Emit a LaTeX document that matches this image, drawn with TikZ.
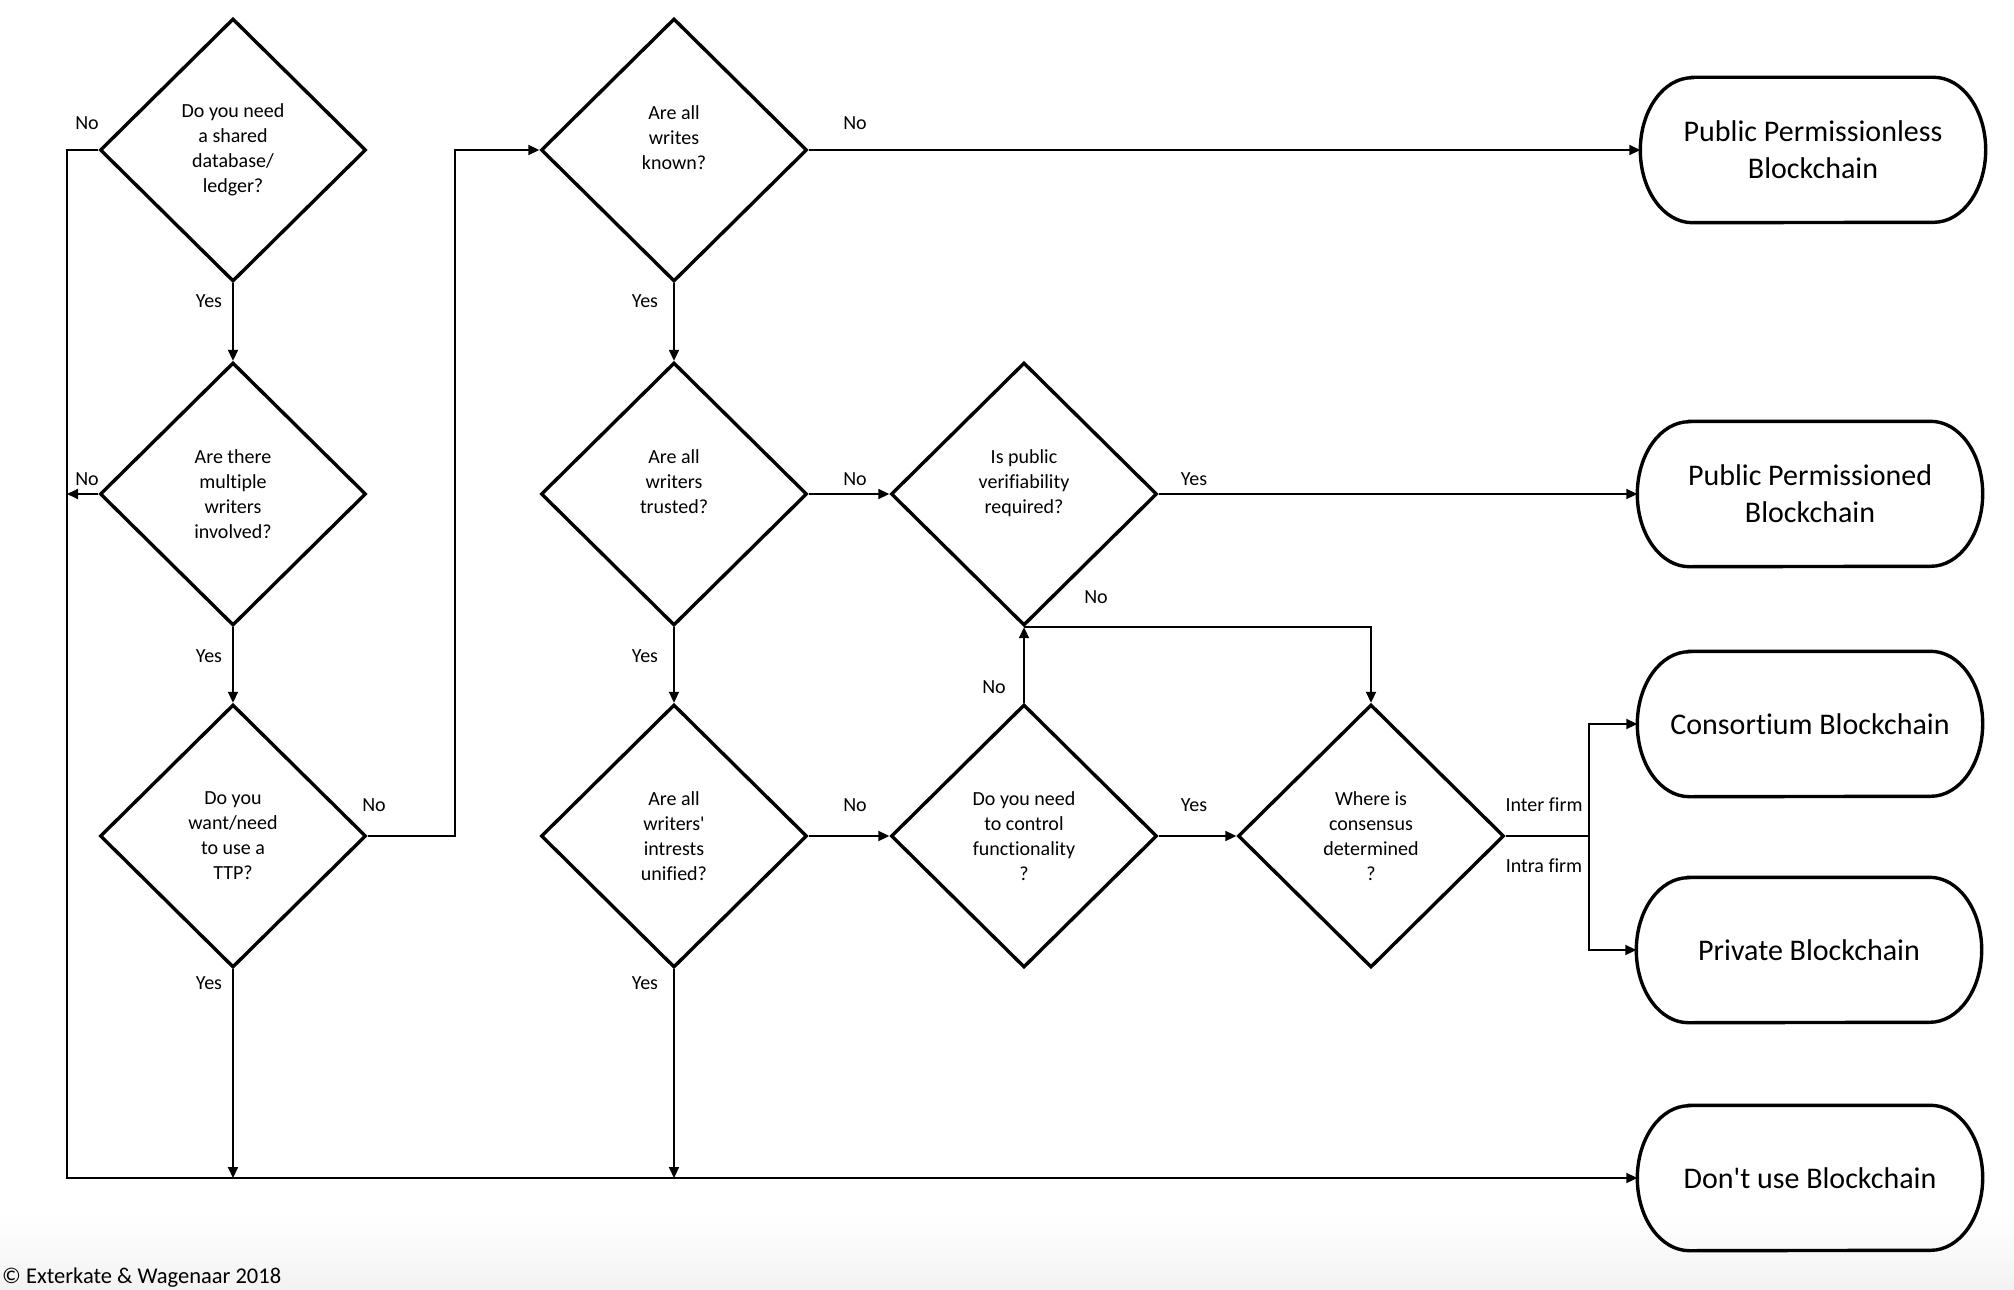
\documentclass[tikz,border=0pt]{standalone}
\usepackage{fontspec}
\setmainfont{Carlito}[Ligatures={NoCommon}]
\usetikzlibrary{shapes.geometric,arrows.meta,calc}
\newcommand\nolig{\kern0pt{}}
\begin{document}
\begin{tikzpicture}[x=1pt,y=-1pt,
  dec/.style={diamond, draw, line width=3.4pt, minimum width=266pt, minimum height=263pt, inner sep=0pt, align=center, font=\fontsize{20}{25}\selectfont},
  term/.style={rectangle, minimum width=345pt, minimum height=145pt, inner sep=0pt, align=center, font=\fontsize{30}{37}\selectfont},
  termline/.style={line width=3.4pt},
  conn/.style={line width=1.9pt},
  arr/.style={conn, -{Triangle[length=11pt,width=10pt]}},
  lbl/.style={font=\fontsize{20}{24}\selectfont, inner sep=0pt}
]
\useasboundingbox (0,0) rectangle (2014,1290);
\fill[top color=white, bottom color=black!5, draw=none] (0,1215) rectangle (2014,1290);

% decisions
\node[dec] (D1) at (233,150) {Do you need\\a shared\\database/\\ledger?};
\node[dec] (D2) at (233,494) {Are there\\multiple\\writers\\involved?};
\node[dec] (D3) at (233,836) {Do you\\want/need\\to use a\\TTP?};
\node[dec] (D4) at (674,150) {Are all\\writes\\known?\\\mbox{}};
\node[dec] (D5) at (674,494) {Are all\\writers\\trusted?\\\mbox{}};
\node[dec] (D6) at (674,836) {Are all\\writers\textquotesingle\\intrests\\unified?};
\node[dec] (D7) at (1024,494) {Is public\\verifiability\\required?\\\mbox{}};
\node[dec] (D8) at (1024,836) {Do you need\\to control\\funct\nolig ionality\\?};
\node[dec] (D9) at (1371,836) {Where is\\consensus\\determined\\?};

% terminals
\node[term] (T1) at (1813,150) {Public Permissionless\\Blockchain};
\node[term] (T2) at (1810,494) {Public Permissioned\\Blockchain};
\node[term] (T3) at (1810,724) {Consort\nolig ium Blockchain};
\node[term] (T4) at (1809,950) {Private Blockchain};
\node[term] (T5) at (1810,1178) {Don\textquotesingle t use Blockchain};
\foreach \n in {T1,T2,T3,T4,T5}
  \draw[termline] ([xshift=52pt]\n.north west) -- ([xshift=-52pt]\n.north east)
    arc[start angle=90, end angle=-90, x radius=52pt, y radius=72.5pt]
    -- ([xshift=52pt]\n.south west)
    arc[start angle=270, end angle=90, x radius=52pt, y radius=72.5pt] -- cycle;

% helper coordinates
\coordinate (busL) at (67,1178);
\coordinate (c3) at (455,836);
\coordinate (split) at (1589,836);

% connectors
\draw[arr] (D1.west) -| (busL) -- (T5.west);
\draw[arr] (D1.south) -- (D2.north);
\draw[arr] (D2.west) -- (D2.west -| busL);
\draw[arr] (D2.south) -- (D3.north);
\draw[arr] (D3.south) -- (D3.south |- busL);
\draw[arr] (D3.east) -- (c3) |- (D4.west);
\draw[arr] (D4.east) -- (T1.west);
\draw[arr] (D4.south) -- (D5.north);
\draw[arr] (D5.south) -- (D6.north);
\draw[arr] (D6.south) -- (D6.south |- busL);
\draw[arr] (D5.east) -- (D7.west);
\draw[arr] (D6.east) -- (D8.west);
\draw[arr] (D7.east) -- (T2.west);
\draw[arr] (D8.north) -- (D7.south);
\draw[arr] (D7.south) -| (D9.north);
\draw[arr] (D8.east) -- (D9.west);
\draw[arr] (D9.east) -- (split) |- (T3.west);
\draw[arr] (split) |- (T4.west);

% labels
\node[lbl] (l1) at (87,123) {No};
\node[lbl] (l2) at (209,301) {Yes};
\node[lbl] (l3) at (87,479) {No};
\node[lbl] (l4) at (209,656) {Yes};
\node[lbl] (l5) at (374,805) {No};
\node[lbl] (l6) at (209,983) {Yes};
\node[lbl] (l7) at (855,123) {No};
\node[lbl] (l8) at (645,301) {Yes};
\node[lbl] (l9) at (855,479) {No};
\node[lbl] (l10) at (645,656) {Yes};
\node[lbl] (l11) at (855,805) {No};
\node[lbl] (l12) at (645,983) {Yes};
\node[lbl] (l13) at (1194,479) {Yes};
\node[lbl] (l14) at (1096,597) {No};
\node[lbl] (l15) at (994,687) {No};
\node[lbl] (l16) at (1194,805) {Yes};
\node[lbl] (l17) at (1544,805) {Inter firm};
\node[lbl] (l18) at (1544,866) {Intra firm};
\node[lbl, anchor=west, font=\fontsize{22.5}{26}\selectfont] (copy) at (2,1278) {© Exterkate \& Wagenaar 2018};
\end{tikzpicture}
\end{document}
